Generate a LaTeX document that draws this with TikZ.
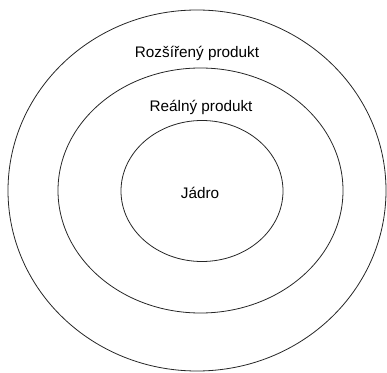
\documentclass[tikz,border=0pt]{standalone}
\usepackage{fontspec}
\setmainfont{Liberation Sans}
\usetikzlibrary{shapes.geometric}
\begin{document}
\begin{tikzpicture}[x=1pt, y=1pt, font=\fontsize{15.3}{18}\selectfont, every node/.style={outer sep=0pt, inner sep=0pt}, ring/.style={draw=black!85, line width=0.8pt, ellipse}]
	\useasboundingbox (0, 0) rectangle (387, 372);
	
	% Vrstvy produktu
	\node[ring, minimum width=378pt, minimum height=361pt] (rozsireny) at (197, 181.5) {};
	\node[ring, minimum width=285pt, minimum height=245pt] (realny) at (200.5, 181.5) {};
	\node[ring, minimum width=162pt, minimum height=141pt] (jadro) at (202, 181) {};
	
	% Popisky
	\node (lrozsireny) at (197, 319) {Rozšířený produkt};
	\node (lrealny) at (201, 265) {Reálný produkt};
	\node (ljadro) at (200, 179) {Jádro};
	
\end{tikzpicture}
\end{document}
